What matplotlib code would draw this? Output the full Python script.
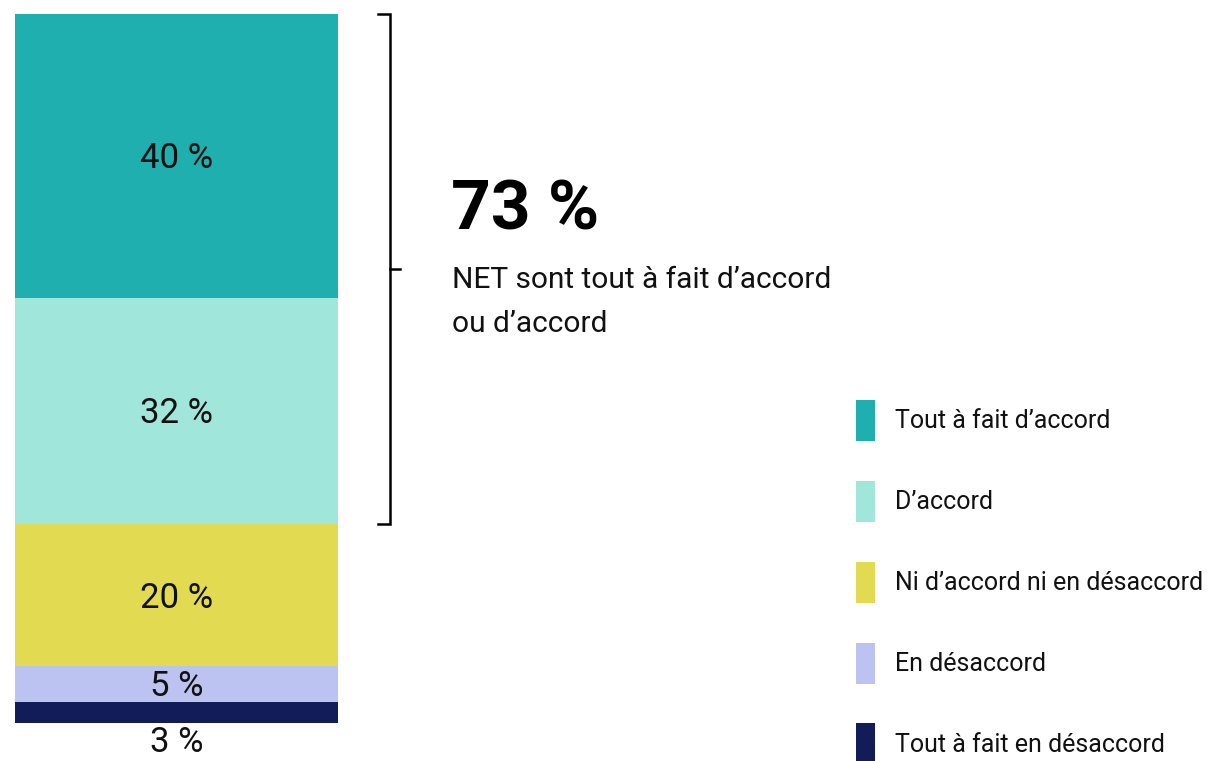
import matplotlib
matplotlib.use("Agg")
import matplotlib.pyplot as plt
from matplotlib.patches import Patch

plt.rcParams['font.family'] = ['Roboto', 'DejaVu Sans']

# données
categories = ['Tout à fait d’accord', 'D’accord', 'Ni d’accord ni en désaccord',
              'En désaccord', 'Tout à fait en désaccord']
values = [40, 32, 20, 5, 3]
labels = ['40 %', '32 %', '20 %', '5 %', '3 %']
colors = ['#1EAFAE', '#A1E6DA', '#E2DB52', '#BCC3F1', '#121C59']
net_value = '73 %'
net_text = 'NET sont tout à fait d’accord\nou d’accord'

W, H = 1213, 761
fig = plt.figure(figsize=(W / 100, H / 100), dpi=100)

# axe de la barre (en pixels de la figure)
ax = fig.add_axes([15 / W, (H - 723) / H, 323 / W, 709 / H])
ax.set_xlim(0, 1)
ax.set_ylim(0, 100)
ax.axis('off')

# barre empilée, du bas vers le haut
bottom = 0
for val, lab, col in list(zip(values, labels, colors))[::-1]:
    ax.bar(0.5, val, width=1, bottom=bottom, color=col, linewidth=0)
    if val >= 5:
        ax.text(0.5, bottom + val / 2 - 0.4, lab, ha='center', va='center',
                fontsize=25, color='#111111')
    else:
        ax.text(0.5, bottom - 2.7, lab, ha='center', va='center',
                fontsize=25, color='#111111', clip_on=False)
    bottom += val

# accolade pour le NET (tout à fait d'accord + d'accord)
top = sum(values)
low = top - values[0] - values[1]
mid = (top + low) / 2
x0, x1, x2 = 1.124, 1.161, 1.192
ax.plot([x0, x1, x1, x0], [top, top, low, low], color='black', lw=1.8,
        clip_on=False, solid_joinstyle='miter')
ax.plot([x1, x2], [mid, mid], color='black', lw=1.8, clip_on=False)

fig.text(451 / W, 1 - 229 / H, net_value, fontsize=50, fontweight='bold',
         ha='left', va='baseline', color='black')
fig.text(452 / W, 1 - 266 / H, net_text, fontsize=21.5, ha='left', va='top',
         color='#111111', linespacing=1.72)

# légende
handles = [Patch(facecolor=c, edgecolor='none') for c in colors]
fs = 18
fpx = fs * 100 / 72
hh = (41 / fpx - 0.245) / 0.65
fig.legend(handles, categories, loc='upper left',
           bbox_to_anchor=(856 / W, 1 - 400 / H), frameon=False,
           fontsize=fs, borderpad=0, borderaxespad=0,
           handlelength=19 / fpx, handleheight=hh,
           handletextpad=20 / fpx, labelspacing=(81 - hh * fpx) / fpx + 0.5,
           labelcolor='#111111')

fig.savefig('out.png', dpi=100)
